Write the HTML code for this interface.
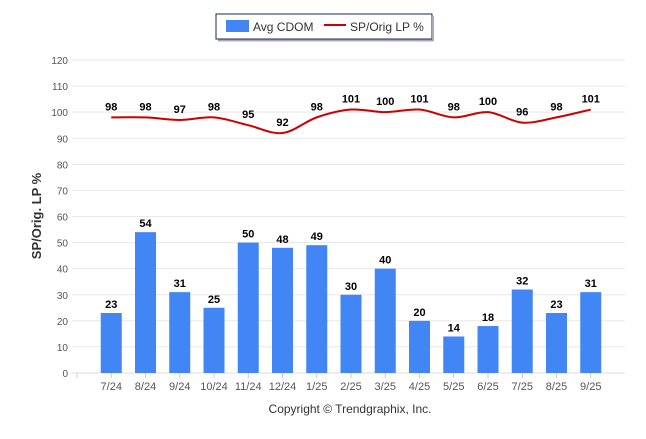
<!DOCTYPE html>
<html><head><meta charset="utf-8"><style>
body{margin:0;background:#fff;font-family:"Liberation Sans",sans-serif}
</style></head><body>
<svg width="646" height="434" xmlns="http://www.w3.org/2000/svg" font-family="Liberation Sans, sans-serif">
<g>
<rect x="216" y="14" width="216" height="25" fill="#fff" stroke="#1a2850" stroke-width="1"/>
<line x1="433" y1="16" x2="433" y2="41" stroke="#aab" stroke-width="2"/>
<line x1="218" y1="40.5" x2="433" y2="40.5" stroke="#aab" stroke-width="2"/>
<rect x="226" y="20" width="23" height="12" fill="#4285f4"/>
<text x="253" y="31" font-size="12" fill="#333">Avg CDOM</text>
<line x1="324" y1="25" x2="346" y2="25" stroke="#cc0000" stroke-width="2"/>
<text x="350" y="31" font-size="12" fill="#333">SP/Orig LP %</text>
</g>
<g id="grid"></g><g id="bars"></g><g id="line"></g><g id="labels"></g>
<text transform="translate(41,216) rotate(-90)" text-anchor="middle" font-size="13" font-weight="bold" fill="#333">SP/Orig. LP %</text>
<text x="350" y="413" text-anchor="middle" font-size="12" fill="#333">Copyright © Trendgraphix, Inc.</text>
</svg>
<script>
const categories=["7/24","8/24","9/24","10/24","11/24","12/24","1/25","2/25","3/25","4/25","5/25","6/25","7/25","8/25","9/25"];
const cdom=[23,54,31,25,50,48,49,30,40,20,14,18,32,23,31];
const sp=[98,98,97,98,95,92,98,101,100,101,98,100,96,98,101];
const yTicks=[0,10,20,30,40,50,60,70,80,90,100,110,120];
const NS="http://www.w3.org/2000/svg";
const L=77,R=625,T=60,B=373;
const step=(R-L)/16;
const x=i=>L+(i+1)*step;
const y=v=>B-(v/120)*(B-T);
function mk(t,a,p){const e=document.createElementNS(NS,t);for(const k in a)e.setAttribute(k,a[k]);p.appendChild(e);return e;}
const g=document.getElementById('grid'),bg=document.getElementById('bars'),lg=document.getElementById('line'),lb=document.getElementById('labels');
yTicks.forEach(v=>{
 const l=mk('line',{x1:72,x2:R,y1:y(v),y2:y(v),stroke:v===0?'#ddd':'#e8e8e8','stroke-width':1},g);
 
 
 const t=mk('text',{x:68,y:y(v)+4,'text-anchor':'end','font-size':10,fill:'#555'},g);
 t.textContent=v;
 
 
});
mk('line',{x1:L,x2:L,y1:B,y2:B+5,stroke:'#ccc'},g);
categories.forEach((c,i)=>{
 mk('line',{x1:x(i),x2:x(i),y1:B,y2:B+5,stroke:'#ccc'},g);
 const t=mk('text',{x:x(i),y:B+17,'text-anchor':'middle','font-size':11,fill:'#555'},g);
 t.textContent=c;
 
 
 const b=mk('rect',{x:x(i)-10.5,y:y(cdom[i]),width:21,height:B-y(cdom[i]),fill:'#4285f4'},bg);
 
 
 const bl=mk('text',{x:x(i),y:y(cdom[i])-5,'text-anchor':'middle','font-size':11,'font-weight':'bold',fill:'#000'},lb);
 bl.textContent=cdom[i];
 
 
 const pl=mk('text',{x:x(i),y:y(sp[i])-7,'text-anchor':'middle','font-size':11,'font-weight':'bold',fill:'#000'},lb);
 pl.textContent=sp[i];
 
 
});
const pts=sp.map((v,i)=>[x(i),y(v)]);
let d='M'+pts[0][0]+','+pts[0][1];
for(let i=1;i<pts.length;i++){
 const p0=pts[Math.max(0,i-2)],p1=pts[i-1],p2=pts[i],p3=pts[Math.min(pts.length-1,i+1)];
 const k=1/6;
 d+=` C${p1[0]+(p2[0]-p0[0])*k},${p1[1]+(p2[1]-p0[1])*k} ${p2[0]-(p3[0]-p1[0])*k},${p2[1]-(p3[1]-p1[1])*k} ${p2[0]},${p2[1]}`;
}
const path=mk('path',{d:d,fill:'none',stroke:'#cc0000','stroke-width':2},lg);


</script>
</body></html>
